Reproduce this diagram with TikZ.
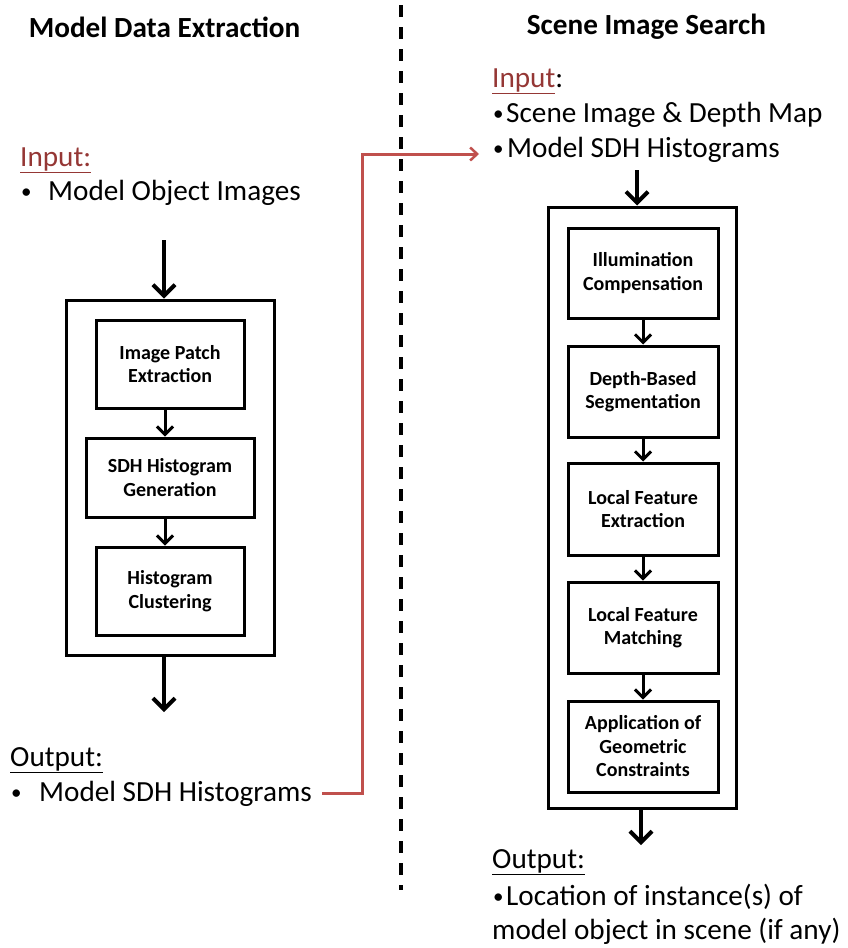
\documentclass[tikz,border=0pt]{standalone}
\usepackage{fontspec}
\setmainfont{Carlito}
\usetikzlibrary{arrows.meta}
\definecolor{maroon}{RGB}{149,55,53}
\definecolor{linkred}{RGB}{192,80,77}
\tikzset{
  txt/.style={anchor=base west, inner sep=0pt, font=\fontsize{29.2}{35}\selectfont},
  bul/.style={anchor=base west, inner sep=0pt, font=\fontsize{21}{25}\selectfont},
  ttl/.style={anchor=base, inner sep=0pt, font=\fontsize{29.2}{35}\selectfont\bfseries},
  outerbox/.style={draw, line width=3pt, inner sep=0pt},
  stepbox/.style={draw, line width=3pt, inner sep=0pt, align=center, font=\fontsize{20}{23.5}\selectfont\bfseries},
  bigarrow/.style={line width=4pt, -{Straight Barb[length=11pt,width=22pt,line width=4pt]}},
  smallarrow/.style={line width=3pt, -{Straight Barb[length=8pt,width=16pt,line width=3pt]}},
  redarrow/.style={draw=linkred, line width=3pt, -{Straight Barb[length=7pt,width=13pt,line width=2.5pt]}},
}
\begin{document}
\begin{tikzpicture}[x=1pt,y=-1pt]
\useasboundingbox (0,0) rectangle (848,948);

% divider
\draw[line width=3.5pt, dash pattern=on 12pt off 10pt] (401,5) -- (401,890);

% ---------- left ----------
\node[ttl] (tl) at (164.5,37) {Model Data Extraction};
\node[txt, text=maroon] (inL) at (20,166) {\underline{Input:}};
\node[bul] (inLb) at (21,198) {•};
\node[txt] (inL1) at (48,200) {Model Object Images};

\node[outerbox, minimum width=208pt, minimum height=355pt] (oL) at (170,477.5) {};
\node[stepbox, minimum width=148pt, minimum height=88pt] (b1) at (170,364) {Image Patch\\Extraction};
\node[stepbox, minimum width=168pt, minimum height=79pt] (b2) at (170,477.5) {SDH Histogram\\Generation};
\node[stepbox, minimum width=148pt, minimum height=88pt] (b3) at (170,591) {Histogram\\Clustering};

\coordinate (axL) at (165,0);
\coordinate (sL) at (164,240);
\coordinate (eL) at (164,712);
\draw[bigarrow] (sL) -- (sL |- oL.north);
\draw[smallarrow] (b1.south -| axL) -- (b2.north -| axL);
\draw[smallarrow] (b2.south -| axL) -- (b3.north -| axL);
\draw[bigarrow] (eL |- oL.south) -- (eL);

\node[txt] (outL) at (10,766) {\underline{Output:}};
\node[bul] (outLb) at (11,799) {•};
\node[txt] (outL1) at (39,801) {Model SDH Histograms};

% ---------- right ----------
\node[ttl] (tr) at (646.5,34) {Scene Image Search};
\node[txt] (inR) at (492,87) {\textcolor{maroon}{\underline{Input}}:};
\node[bul] (inRb1) at (493,120) {•};
\node[txt] (inR1) at (506,122) {Scene Image \& Depth Map};
\node[bul] (inRb2) at (493,155) {•};
\node[txt] (inR2) at (507,157) {Model SDH Histograms};

\node[outerbox, minimum width=188pt, minimum height=601pt] (oR) at (642,507.5) {};
\node[stepbox, minimum width=150pt, minimum height=90pt] (c1) at (643,273) {Illumination\\Compensation};
\node[stepbox, minimum width=150pt, minimum height=91pt] (c2) at (643,391.5) {Depth-Based\\Segmentation};
\node[stepbox, minimum width=150pt, minimum height=92pt] (c3) at (643,509) {Local Feature\\Extraction};
\node[stepbox, minimum width=150pt, minimum height=91pt] (c4) at (643,627.5) {Local Feature\\Matching};
\node[stepbox, minimum width=150pt, minimum height=91pt] (c5) at (643,746.5) {Application of\\Geometric\\Constraints};

\coordinate (sR) at (637,170);
\coordinate (eR) at (641,845);
\draw[bigarrow] (sR) -- (sR |- oR.north);
\draw[smallarrow] (c1) -- (c2);
\draw[smallarrow] (c2) -- (c3);
\draw[smallarrow] (c3) -- (c4);
\draw[smallarrow] (c4) -- (c5);
\draw[bigarrow] (eR |- oR.south) -- (eR);

\node[txt] (outR) at (492,868) {\underline{Output:}};
\node[bul] (outRb) at (493,903) {•};
\node[txt] (outR1) at (506,905) {Location of instance(s) of};
\node[txt] (outR2) at (492,939) {model object in scene (if any)};

% ---------- link ----------
\coordinate (r0) at (322,793);
\coordinate (rb) at (362,154);
\coordinate (r1) at (479,154);
\draw[redarrow] (r0) -| (rb) -- (r1);
\end{tikzpicture}
\end{document}
